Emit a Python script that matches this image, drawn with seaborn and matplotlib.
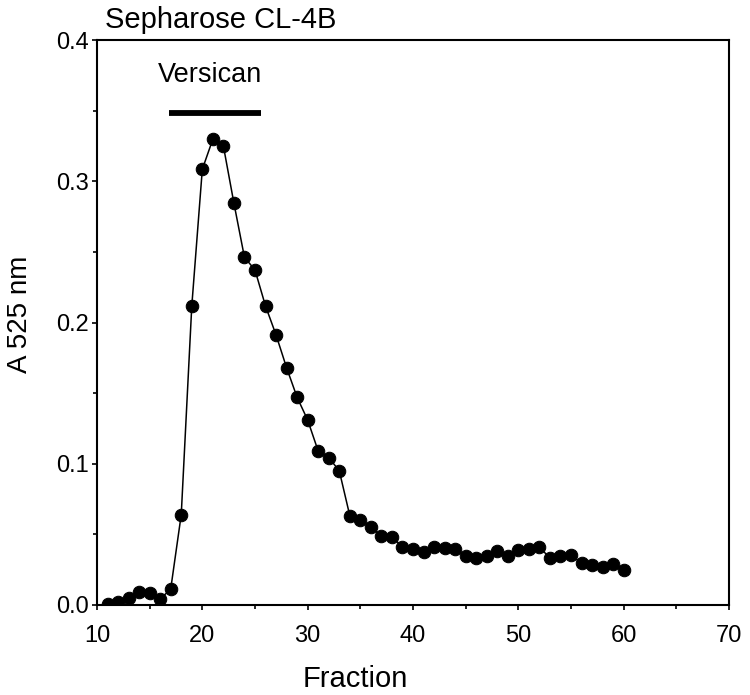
import matplotlib
matplotlib.use("Agg")
import matplotlib.pyplot as plt
from matplotlib.ticker import MultipleLocator, FormatStrFormatter
import seaborn as sns
import pandas as pd

# elution profile, Sepharose CL-4B
fractions = list(range(11, 61))
a525 = [0.001, 0.0023, 0.0047, 0.0094, 0.0083, 0.0042, 0.0113, 0.064, 0.2117, 0.3085,
        0.3298, 0.325, 0.2845, 0.2462, 0.2372, 0.2117, 0.1912, 0.168, 0.147, 0.131,
        0.109, 0.1043, 0.0951, 0.0633, 0.0602, 0.055, 0.049, 0.048, 0.0413, 0.040,
        0.0378, 0.0413, 0.0405, 0.0395, 0.0347, 0.033, 0.0347, 0.0382, 0.035, 0.039,
        0.040, 0.0413, 0.033, 0.035, 0.0354, 0.0295, 0.0283, 0.0271, 0.0288, 0.0248]
versican_range = [16.8, 25.6]
versican_level = 0.348

df = pd.DataFrame({"Fraction": fractions, "A525": a525})

sns.set_style("white", {"text.color": "black", "axes.labelcolor": "black",
                        "xtick.color": "black", "ytick.color": "black"})
plt.rcParams["font.family"] = ["Liberation Sans", "DejaVu Sans"]

fig = plt.figure(figsize=(7.5, 6.95), dpi=100)
ax = fig.add_axes([0.1293, 0.1295, 0.8427, 0.8129])

sns.lineplot(data=df, x="Fraction", y="A525", ax=ax, color="black", linewidth=1.1,
             marker="o", markersize=9, markeredgecolor="black", markerfacecolor="black")

ax.plot(versican_range, [versican_level, versican_level], color="black", linewidth=4.2,
        solid_capstyle="butt")
ax.text(20.73, 0.3704, "Versican", ha="center", va="baseline", fontsize=19.5)

ax.set_xlim(10, 70)
ax.set_ylim(0, 0.4)
ax.xaxis.set_major_locator(MultipleLocator(10))
ax.xaxis.set_minor_locator(MultipleLocator(5))
ax.yaxis.set_major_locator(MultipleLocator(0.1))
ax.yaxis.set_minor_locator(MultipleLocator(0.05))
ax.yaxis.set_major_formatter(FormatStrFormatter("%.1f"))
ax.tick_params(which="both", direction="out", length=3.5, width=1.2, labelsize=17,
               bottom=True, left=True, colors="black")
ax.tick_params(axis="x", pad=11)
ax.tick_params(axis="y", pad=2)
ax.tick_params(which="minor", length=3)

for s in ax.spines.values():
    s.set_linewidth(1.5)
    s.set_color("black")

ax.set_xlabel("Fraction", fontsize=21)
ax.set_ylabel("A 525 nm", fontsize=20)
ax.xaxis.label.set_va("baseline")
ax.xaxis.set_label_coords(0.408, -0.146)
ax.yaxis.set_label_coords(-0.102, 0.515)
fig.text(105 / 750, 1 - 28 / 695, "Sepharose CL-4B", fontsize=21, ha="left", va="baseline")

fig.savefig("out.png", dpi=100)
